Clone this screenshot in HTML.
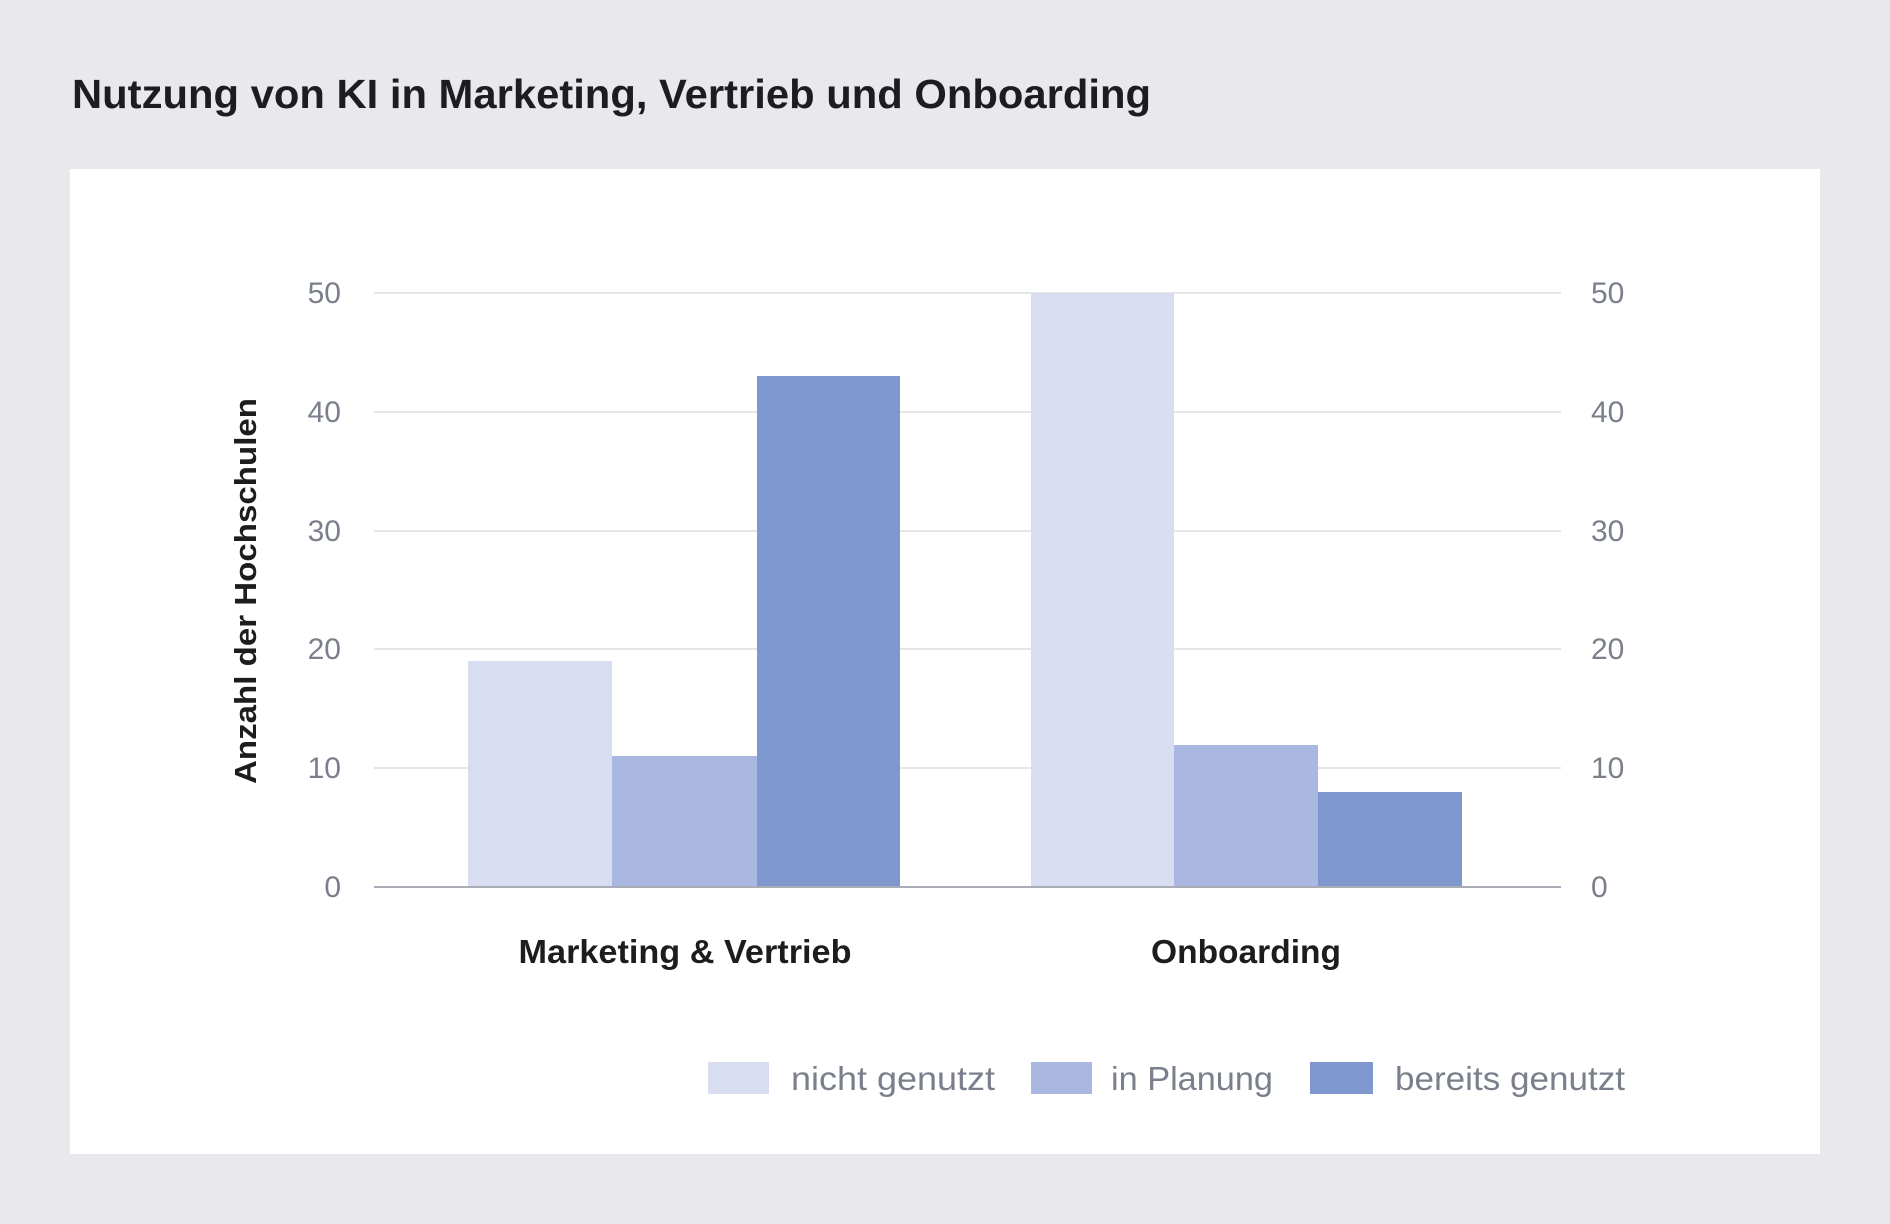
<!DOCTYPE html>
<html><head><meta charset="utf-8"><style>
html,body{margin:0;padding:0;background:#e9e8ed;}
svg{display:block;font-family:"Liberation Sans",sans-serif;}
</style></head><body>
<svg width="1890" height="1224" viewBox="0 0 1890 1224">
<rect width="1890" height="1224" fill="#e9e8ed"/>
<text x="72" y="108" font-size="41" font-weight="bold" fill="#1d1d1f" textLength="1079" lengthAdjust="spacingAndGlyphs">Nutzung von KI in Marketing, Vertrieb und Onboarding</text>
<rect x="70" y="169" width="1750" height="985" fill="#ffffff"/>
<g stroke="#dcdde3" stroke-width="1.5">
<line x1="374" x2="1561" y1="293" y2="293"/>
<line x1="374" x2="1561" y1="412" y2="412"/>
<line x1="374" x2="1561" y1="531" y2="531"/>
<line x1="374" x2="1561" y1="649" y2="649"/>
<line x1="374" x2="1561" y1="768" y2="768"/>
</g>
<g>
<rect x="468" y="661" width="144" height="226" fill="#d9ddf2"/>
<rect x="612" y="756" width="145" height="131" fill="#aab8e1"/>
<rect x="757" y="376" width="143" height="511" fill="#7e98cf"/>
<rect x="1031" y="293" width="143" height="594" fill="#d9ddf2"/>
<rect x="1174" y="745" width="144" height="142" fill="#aab8e1"/>
<rect x="1318" y="792" width="144" height="95" fill="#7e98cf"/>
</g>
<line x1="374" x2="1561" y1="887" y2="887" stroke="#a9abb5" stroke-width="2"/>
<g font-size="30" fill="#7a7f8c">
<g text-anchor="end">
<text x="341" y="303">50</text><text x="341" y="422">40</text><text x="341" y="541">30</text>
<text x="341" y="659">20</text><text x="341" y="778">10</text><text x="341" y="897">0</text>
</g>
<g>
<text x="1591" y="303">50</text><text x="1591" y="422">40</text><text x="1591" y="541">30</text>
<text x="1591" y="659">20</text><text x="1591" y="778">10</text><text x="1591" y="897">0</text>
</g>
</g>
<text transform="translate(256,591) rotate(-90)" text-anchor="middle" font-size="31" font-weight="bold" fill="#1d1d1f" textLength="386" lengthAdjust="spacingAndGlyphs">Anzahl der Hochschulen</text>
<g font-size="33" font-weight="bold" fill="#1d1d1f" text-anchor="middle">
<text x="685" y="963" textLength="333" lengthAdjust="spacingAndGlyphs">Marketing &amp; Vertrieb</text>
<text x="1246" y="963" textLength="190" lengthAdjust="spacingAndGlyphs">Onboarding</text>
</g>
<rect x="708" y="1062" width="61" height="32" fill="#d9ddf2"/>
<rect x="1031" y="1062" width="61" height="32" fill="#aab8e1"/>
<rect x="1310" y="1062" width="63" height="32" fill="#7e98cf"/>
<g font-size="33" fill="#7a7f8c">
<text x="791" y="1090" textLength="204" lengthAdjust="spacingAndGlyphs">nicht genutzt</text>
<text x="1111" y="1090" textLength="162" lengthAdjust="spacingAndGlyphs">in Planung</text>
<text x="1395" y="1090" textLength="230" lengthAdjust="spacingAndGlyphs">bereits genutzt</text>
</g>
</svg>
</body></html>
